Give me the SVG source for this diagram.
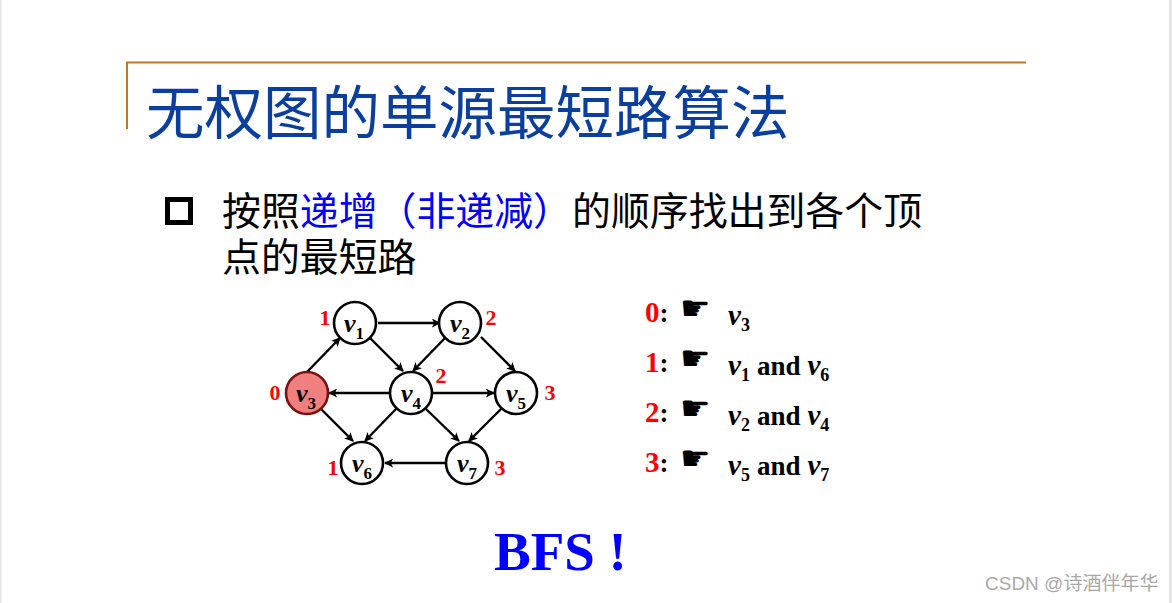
<svg xmlns="http://www.w3.org/2000/svg" width="1172" height="603" viewBox="0 0 1172 603">
<style>
.n{fill:#fff;stroke:#000;stroke-width:2.6}
.e{stroke:#000;stroke-width:2.400;fill:none;marker-end:url(#a)}
.v{font:italic bold 26px "Liberation Serif",serif;fill:#000;text-anchor:middle}
.s{font:bold 17px "Liberation Serif",serif;fill:#000}
.d{font:bold 22px "Liberation Serif",serif;fill:#f00;text-anchor:middle}
.l{font:bold 27px "Liberation Serif",serif;fill:#000}
.lr{fill:#f00;font-size:29px}
.lv{font:italic bold 29px "Liberation Serif",serif}
.ls{font:bold 18px "Liberation Serif",serif}
.and{font:bold 27px "Liberation Serif",serif}
.h{font:34px "DejaVu Sans",sans-serif;fill:#000}
.c{font-family:"Noto Sans CJK SC",sans-serif}
</style>
<defs><marker id="a" viewBox="0 0 10 10" refX="9" refY="5" markerWidth="9" markerHeight="9" markerUnits="userSpaceOnUse" orient="auto"><path d="M0 0L10 5L0 10L2.5 5Z" fill="#000"/></marker></defs>
<rect width="1172" height="603" fill="#fff"/>
<rect x="0" y="0" width="1.500" height="603" fill="#e6e6e6"/>
<rect x="1169" y="0" width="3" height="603" fill="#e6e6e6"/>
<g id="frame"><path d="M127 129V62.500H1026" fill="none" stroke="#c8741a" stroke-width="2"/></g>
<g id="title"><text class="c" x="146" y="134" font-size="58.500" fill="#0a3f9e">无权图的单源最短路算法</text></g>
<g id="bullet"><rect x="167.500" y="199.500" width="23" height="23" fill="#fff" stroke="#000" stroke-width="5"/>
<text class="c" font-size="38.900" x="222" y="225" fill="#000">按照<tspan fill="#0000ff">递增（非递减）</tspan>的顺序找出到各个顶</text>
<text class="c" font-size="38.900" x="222" y="271" fill="#000">点的最短路</text></g>
<g id="connectors">
<path class="e" d="M378 323H440"/>
<path class="e" d="M307 372L340 338"/>
<path class="e" d="M370 338L403 371"/>
<path class="e" d="M445 338L413 371"/>
<path class="e" d="M481 337L515 371"/>
<path class="e" d="M389 393H329"/>
<path class="e" d="M433 393H494"/>
<path class="e" d="M321 409L353 441"/>
<path class="e" d="M396 409L365 441"/>
<path class="e" d="M426 409L459 441"/>
<path class="e" d="M501 409L469 441"/>
<path class="e" d="M445 463H385"/>
</g>
<g id="v1"><circle class="n" cx="355" cy="323" r="21"/><text class="v" x="354" y="332">v<tspan class="s" dy="7">1</tspan></text></g>
<g id="v2"><circle class="n" cx="460" cy="323" r="21"/><text class="v" x="460" y="332">v<tspan class="s" dy="7">2</tspan></text></g>
<g id="v3"><circle class="n" cx="307" cy="393" r="21" style="fill:#f08080;stroke:#7a1010"/><text class="v" x="306" y="402">v<tspan class="s" dy="7">3</tspan></text></g>
<g id="v4"><circle class="n" cx="411" cy="393" r="21"/><text class="v" x="411" y="402">v<tspan class="s" dy="7">4</tspan></text></g>
<g id="v5"><circle class="n" cx="516" cy="393" r="21"/><text class="v" x="516" y="402">v<tspan class="s" dy="7">5</tspan></text></g>
<g id="v6"><circle class="n" cx="362" cy="463" r="21"/><text class="v" x="362" y="472">v<tspan class="s" dy="7">6</tspan></text></g>
<g id="v7"><circle class="n" cx="467" cy="463" r="21"/><text class="v" x="467" y="472">v<tspan class="s" dy="7">7</tspan></text></g>
<g id="dists">
<text class="d" x="325" y="325">1</text><text class="d" x="491" y="325">2</text><text class="d" x="275" y="400">0</text>
<text class="d" x="441" y="383">2</text><text class="d" x="550" y="400">3</text><text class="d" x="333" y="475">1</text><text class="d" x="500" y="475">3</text>
</g>
<g id="levels">
<text class="l" x="645" y="322"><tspan class="lr">0</tspan>:</text><text class="h" x="680" y="320">☛</text>
<text class="l" x="728" y="325"><tspan class="lv">v</tspan><tspan class="ls" dy="6">3</tspan></text>
<text class="l" x="645" y="372"><tspan class="lr">1</tspan>:</text><text class="h" x="680" y="370">☛</text>
<text class="l" x="728" y="375"><tspan class="lv">v</tspan><tspan class="ls" dy="6">1</tspan><tspan class="and" dy="-6" dx="7">and</tspan><tspan class="lv" dx="7">v</tspan><tspan class="ls" dy="6">6</tspan></text>
<text class="l" x="645" y="422"><tspan class="lr">2</tspan>:</text><text class="h" x="680" y="420">☛</text>
<text class="l" x="728" y="425"><tspan class="lv">v</tspan><tspan class="ls" dy="6">2</tspan><tspan class="and" dy="-6" dx="7">and</tspan><tspan class="lv" dx="7">v</tspan><tspan class="ls" dy="6">4</tspan></text>
<text class="l" x="645" y="472"><tspan class="lr">3</tspan>:</text><text class="h" x="680" y="470">☛</text>
<text class="l" x="728" y="475"><tspan class="lv">v</tspan><tspan class="ls" dy="6">5</tspan><tspan class="and" dy="-6" dx="7">and</tspan><tspan class="lv" dx="7">v</tspan><tspan class="ls" dy="6">7</tspan></text>
</g>
<g id="bfs"><text x="494" y="570" font-family="Liberation Serif,serif" font-weight="bold" font-size="55" fill="#0000ff">BFS !</text></g>
<g id="watermark"><text x="985" y="590" font-family="'Liberation Sans','Noto Sans CJK SC',sans-serif" font-size="19" fill="#a8a8a8">CSDN @诗酒伴年华</text></g>
</svg>
